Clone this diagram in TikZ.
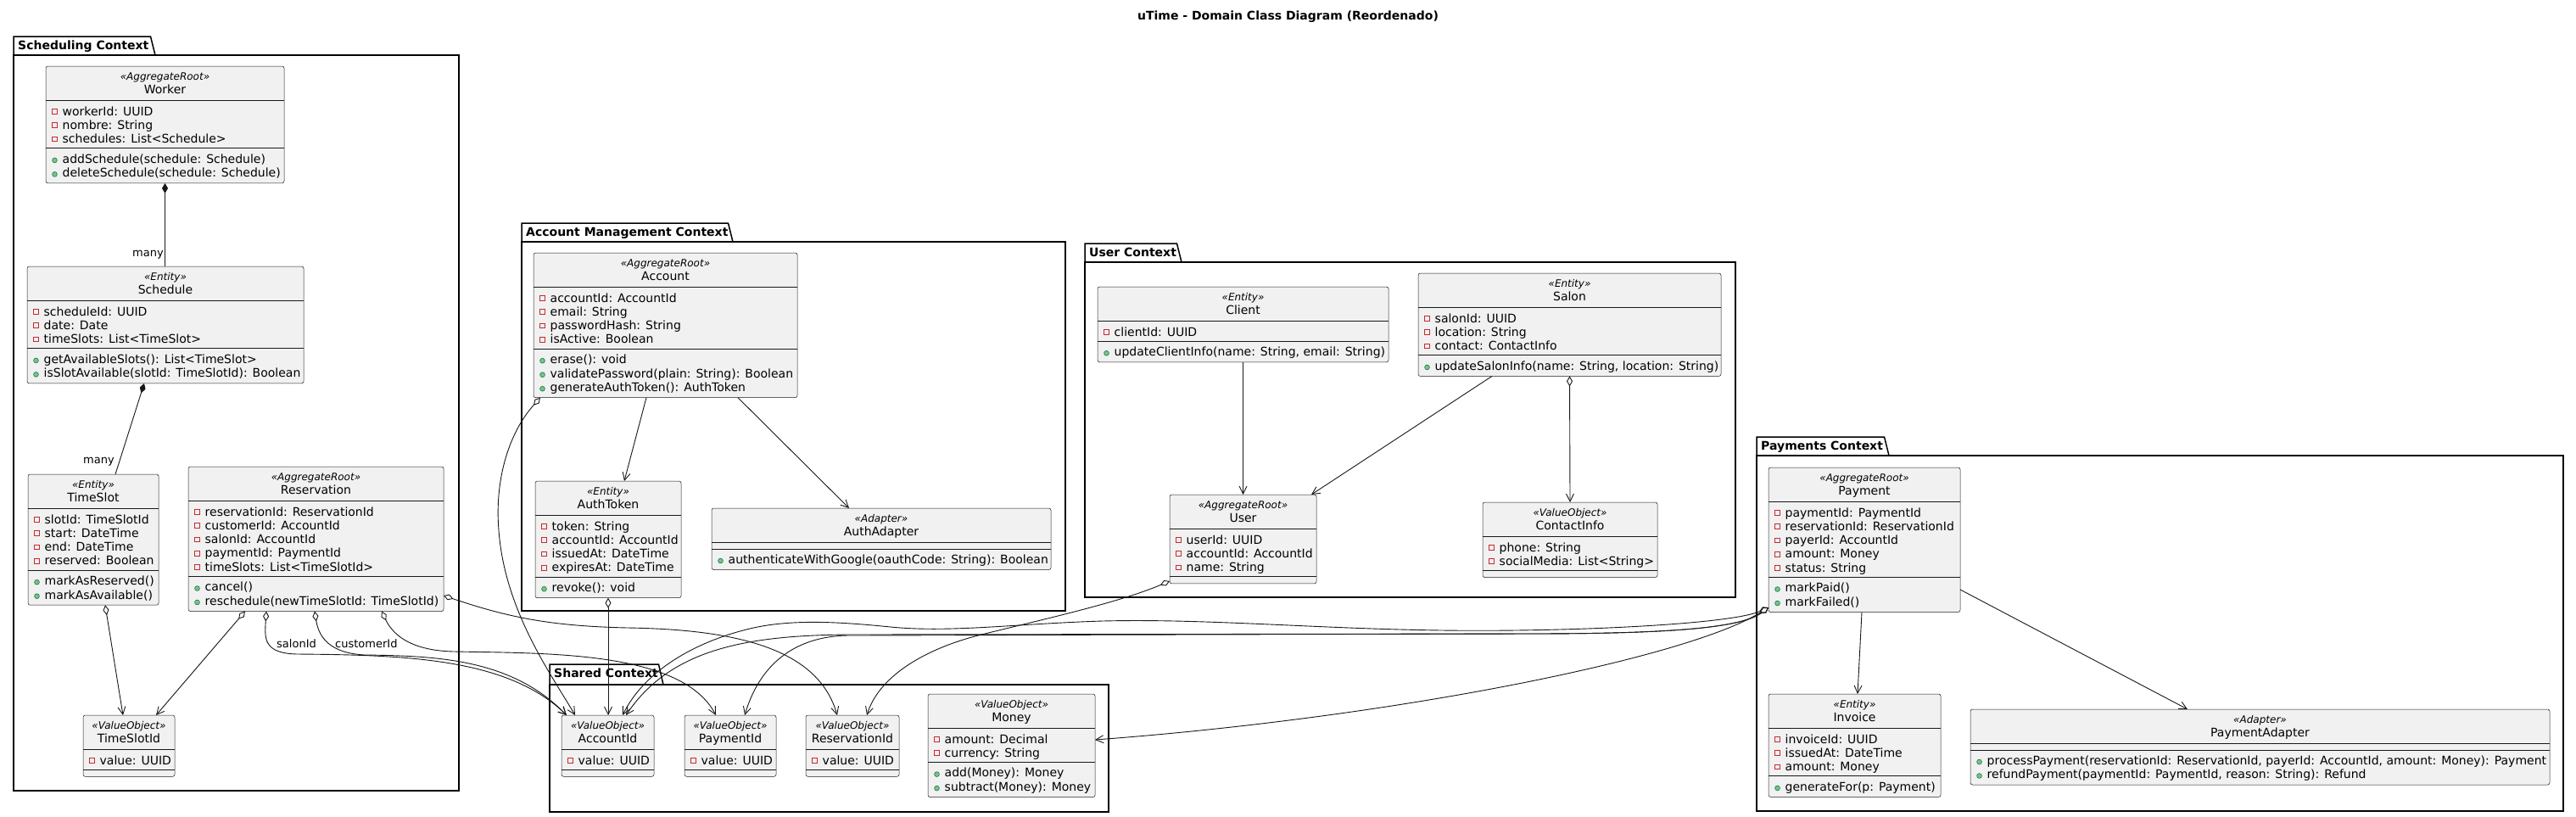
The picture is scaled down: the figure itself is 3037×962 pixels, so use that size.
\documentclass[tikz,border=0pt]{standalone}
\usepackage{fontspec}
\setmainfont{DejaVu Sans}
\usetikzlibrary{arrows.meta}
\definecolor{boxfill}{HTML}{F1F1F1}
\definecolor{edgec}{HTML}{181818}
\definecolor{privred}{HTML}{C82930}
\definecolor{pubgreenf}{HTML}{84BE84}
\definecolor{pubgreen}{HTML}{038048}
\tikzset{
  clsbox/.style={rectangle, rounded corners=2.5pt, fill=boxfill, draw=edgec, line width=0.5pt, inner sep=0pt, outer sep=0pt},
  rowtext/.style={font=\fontsize{14}{16}\selectfont, inner sep=0pt, anchor=base west, text=black},
  nametext/.style={font=\fontsize{14}{16}\selectfont, inner sep=0pt, anchor=base, text=black},
  stereotext/.style={font=\fontsize{12}{14}\selectfont\itshape, inner sep=0pt, anchor=base, text=black},
  lbl/.style={font=\fontsize{13}{15}\selectfont, inner sep=0pt, text=black},
  pkgtitle/.style={font=\fontsize{14}{16}\selectfont\bfseries, inner sep=0pt, anchor=base west},
  pkgline/.style={draw=black, line width=1.5pt, line join=miter},
  hdivline/.style={draw=edgec, line width=0.5pt},
  adivline/.style={draw=edgec, line width=1pt},
  privicon/.style={draw=privred, line width=0.9pt},
  pubicon/.style={fill=pubgreenf, draw=pubgreen, line width=0.6pt},
  assoc/.style={draw=edgec, line width=0.9pt},
  dep/.style={assoc, -{Straight Barb[length=9pt,width=9pt]}},
  agg/.style={assoc, {Diamond[fill=white,length=12pt,width=7pt]}-{Straight Barb[length=9pt,width=9pt]}},
  comp/.style={assoc, {Diamond[length=12pt,width=7pt]}-},
}
% #1 name, #2 x1, #3 x2, #4 top, #5 n attrs, #6 n methods, #7 stereotype, #8 title
\newcommand{\umlclass}[8]{%
  \node[clsbox, anchor=north west, minimum width={(#3-#2)*1pt}, minimum height={(56+16.3*#5+16.5*#6)*1pt}] (#1) at (#2,#4) {};
  \node[stereotext] (#1-st) at ([yshift=-16.3pt]#1.north) {«#7»};
  \node[nametext] (#1-nm) at ([yshift=-32pt]#1.north) {#8};
  \draw[hdivline] ([yshift=-40pt]#1.north west) -- ([yshift=-40pt]#1.north east);
  \draw[adivline] ([yshift={-(48+16.3*#5)*1pt}]#1.north west) -- ([yshift={-(48+16.3*#5)*1pt}]#1.north east);
}
% #1 box, #2 index, #3 text
\newcommand{\uattr}[3]{%
  \node[rowtext] (#1-a#2) at ([xshift=19.5pt,yshift={-(58+16.3*(#2-1))*1pt}]#1.north west) {#3};
  \draw[privicon] ([xshift=10.5pt,yshift={-(53.3+16.3*(#2-1))*1pt}]#1.north west) ++(-2.8,-2.8) rectangle ++(5.6,5.6);
}
% #1 box, #2 n attrs, #3 index, #4 text
\newcommand{\umeth}[4]{%
  \node[rowtext] (#1-m#3) at ([xshift=19.5pt,yshift={-(65.3+16.3*#2+16.5*(#3-1))*1pt}]#1.north west) {#4};
  \filldraw[pubicon] ([xshift=10.5pt,yshift={-(62+16.3*#2+16.5*(#3-1))*1pt}]#1.north west) circle[radius=2.9pt];
}
% #1 name, #2 x1, #3 tab top, #4 tab right, #5 body top, #6 x2, #7 bottom, #8 title
\newcommand{\umlpkg}[8]{%
  \draw[pkgline] (#2,#5) -- (#2,#3) -- (#4-5.5,#3) -- (#4,#5);
  \draw[pkgline] (#2,#5) rectangle (#6,#7);
  \node[pkgtitle] (#1) at (#2+5,#3+15) {#8};
}
\begin{document}
\begin{tikzpicture}[x=1pt,y=-1pt]
\fill[white] (0,0) rectangle (3037,962);
\useasboundingbox (0,0) rectangle (3037,962);

\node[font=\fontsize{14}{16}\selectfont\bfseries, inner sep=0pt, anchor=base] (title) at (1518.5,23) {uTime - Domain Class Diagram (Reordenado)};

% packages
\umlpkg{pkgSched}{16}{43}{183}{65}{541}{932}{Scheduling Context}
\umlpkg{pkgAcc}{615}{263}{864}{285}{1256}{720}{Account Management Context}
\umlpkg{pkgUser}{1279}{287}{1393}{309}{2046}{704}{User Context}
\umlpkg{pkgPay}{2071}{515}{2227}{537}{3022}{956}{Payments Context}
\umlpkg{pkgShared}{648}{783}{782}{807}{1307}{957}{Shared Context}

% Scheduling
\umlclass{Worker}{54}{335}{78}{3}{2}{AggregateRoot}{Worker}
\uattr{Worker}{1}{workerId: UUID}
\uattr{Worker}{2}{nombre: String}
\uattr{Worker}{3}{schedules: List<Schedule>}
\umeth{Worker}{3}{1}{addSchedule(schedule: Schedule)}
\umeth{Worker}{3}{2}{deleteSchedule(schedule: Schedule)}

\umlclass{Schedule}{32}{358}{314}{3}{2}{Entity}{Schedule}
\uattr{Schedule}{1}{scheduleId: UUID}
\uattr{Schedule}{2}{date: Date}
\uattr{Schedule}{3}{timeSlots: List<TimeSlot>}
\umeth{Schedule}{3}{1}{getAvailableSlots(): List<TimeSlot>}
\umeth{Schedule}{3}{2}{isSlotAvailable(slotId: TimeSlotId): Boolean}

\umlclass{TimeSlot}{33}{187}{559}{4}{2}{Entity}{TimeSlot}
\uattr{TimeSlot}{1}{slotId: TimeSlotId}
\uattr{TimeSlot}{2}{start: DateTime}
\uattr{TimeSlot}{3}{end: DateTime}
\uattr{TimeSlot}{4}{reserved: Boolean}
\umeth{TimeSlot}{4}{1}{markAsReserved()}
\umeth{TimeSlot}{4}{2}{markAsAvailable()}

\umlclass{Reservation}{222}{523}{550}{5}{2}{AggregateRoot}{Reservation}
\uattr{Reservation}{1}{reservationId: ReservationId}
\uattr{Reservation}{2}{customerId: AccountId}
\uattr{Reservation}{3}{salonId: AccountId}
\uattr{Reservation}{4}{paymentId: PaymentId}
\uattr{Reservation}{5}{timeSlots: List<TimeSlotId>}
\umeth{Reservation}{5}{1}{cancel()}
\umeth{Reservation}{5}{2}{reschedule(newTimeSlotId: TimeSlotId)}

\umlclass{TimeSlotId}{98}{206}{843}{1}{0}{ValueObject}{TimeSlotId}
\uattr{TimeSlotId}{1}{value: UUID}

% Account management
\umlclass{Account}{629}{940}{298}{4}{3}{AggregateRoot}{Account}
\uattr{Account}{1}{accountId: AccountId}
\uattr{Account}{2}{email: String}
\uattr{Account}{3}{passwordHash: String}
\uattr{Account}{4}{isActive: Boolean}
\umeth{Account}{4}{1}{erase(): void}
\umeth{Account}{4}{2}{validatePassword(plain: String): Boolean}
\umeth{Account}{4}{3}{generateAuthToken(): AuthToken}

\umlclass{AuthToken}{631}{803}{567}{4}{1}{Entity}{AuthToken}
\uattr{AuthToken}{1}{token: String}
\uattr{AuthToken}{2}{accountId: AccountId}
\uattr{AuthToken}{3}{issuedAt: DateTime}
\uattr{AuthToken}{4}{expiresAt: DateTime}
\umeth{AuthToken}{4}{1}{revoke(): void}

\umlclass{AuthAdapter}{839}{1239}{599}{0}{1}{Adapter}{AuthAdapter}
\umeth{AuthAdapter}{0}{1}{authenticateWithGoogle(oauthCode: String): Boolean}

% User
\umlclass{Client}{1294}{1637}{338}{1}{1}{Entity}{Client}
\uattr{Client}{1}{clientId: UUID}
\umeth{Client}{1}{1}{updateClientInfo(name: String, email: String)}

\umlclass{Salon}{1672}{2029}{322}{3}{1}{Entity}{Salon}
\uattr{Salon}{1}{salonId: UUID}
\uattr{Salon}{2}{location: String}
\uattr{Salon}{3}{contact: ContactInfo}
\umeth{Salon}{3}{1}{updateSalonInfo(name: String, location: String)}

\umlclass{User}{1379}{1552}{583}{3}{0}{AggregateRoot}{User}
\uattr{User}{1}{userId: UUID}
\uattr{User}{2}{accountId: AccountId}
\uattr{User}{3}{name: String}

\umlclass{ContactInfo}{1748}{1954}{592}{2}{0}{ValueObject}{ContactInfo}
\uattr{ContactInfo}{1}{phone: String}
\uattr{ContactInfo}{2}{socialMedia: List<String>}

% Payments
\umlclass{Payment}{2085}{2311}{551}{5}{2}{AggregateRoot}{Payment}
\uattr{Payment}{1}{paymentId: PaymentId}
\uattr{Payment}{2}{reservationId: ReservationId}
\uattr{Payment}{3}{payerId: AccountId}
\uattr{Payment}{4}{amount: Money}
\uattr{Payment}{5}{status: String}
\umeth{Payment}{5}{1}{markPaid()}
\umeth{Payment}{5}{2}{markFailed()}

\umlclass{Invoice}{2085}{2288}{818}{3}{1}{Entity}{Invoice}
\uattr{Invoice}{1}{invoiceId: UUID}
\uattr{Invoice}{2}{issuedAt: DateTime}
\uattr{Invoice}{3}{amount: Money}
\umeth{Invoice}{3}{1}{generateFor(p: Payment)}

\umlclass{PaymentAdapter}{2323}{3006}{836}{0}{2}{Adapter}{PaymentAdapter}
\umeth{PaymentAdapter}{0}{1}{processPayment(reservationId: ReservationId, payerId: AccountId, amount: Money): Payment}
\umeth{PaymentAdapter}{0}{2}{refundPayment(paymentId: PaymentId, reason: String): Refund}

% Shared
\umlclass{AccountId}{662}{771}{843}{1}{0}{ValueObject}{AccountId}
\uattr{AccountId}{1}{value: UUID}
\umlclass{PaymentId}{807}{915}{843}{1}{0}{ValueObject}{PaymentId}
\uattr{PaymentId}{1}{value: UUID}
\umlclass{ReservationId}{950}{1060}{843}{1}{0}{ValueObject}{ReservationId}
\uattr{ReservationId}{1}{value: UUID}
\umlclass{Money}{1094}{1291}{818}{2}{2}{ValueObject}{Money}
\uattr{Money}{1}{amount: Decimal}
\uattr{Money}{2}{currency: String}
\umeth{Money}{2}{1}{add(Money): Money}
\umeth{Money}{2}{2}{subtract(Money): Money}

% ---------- connectors ----------
\draw[comp] (Worker.south) -- (Worker.south |- Schedule.north);
\node[lbl, anchor=base east] (lblMany1) at ([xshift=-2pt,yshift=12pt]Schedule.north) {many};
\draw[comp] ([xshift=138pt]Schedule.south west) -- ([xshift=103pt]TimeSlot.north west);
\node[lbl, anchor=base east] (lblMany2) at ([xshift=102pt,yshift=13pt]TimeSlot.north west) {many};

\draw[agg] ([xshift=91pt]TimeSlot.south west) -- ([xshift=47pt]TimeSlotId.north west);
\draw[agg] ([xshift=67pt]Reservation.south west) -- ([xshift=86pt]TimeSlotId.north west);

\draw[agg] ([xshift=92pt]Reservation.south west) .. controls (312,752) and (310,770) .. (350,771) .. controls (480,772) and (600,776) .. ([xshift=6pt]AccountId.north west);
\draw[agg] ([xshift=149pt]Reservation.south west) .. controls (376,752) and (390,770) .. (430,772) .. controls (520,773) and (605,778) .. ([xshift=6pt]AccountId.north west);
\node[lbl, anchor=base west] (lblSalon) at ([xshift=104pt,yshift=-42.5pt]Reservation.south west) {salonId};
\node[lbl, anchor=base west] (lblCustomer) at ([xshift=173pt,yshift=-42.5pt]Reservation.south west) {customerId};

\draw[agg] ([xshift=228pt]Reservation.south west) .. controls (465,752) and (490,767) .. (535,768) .. controls (650,770) and (805,768) .. ([xshift=37pt]PaymentId.north west);
\draw[agg] ([yshift=18.5pt]Reservation.south east) .. controls (600,728) and (650,738) .. (740,740) .. controls (870,742) and (965,765) .. ([xshift=37pt]ReservationId.north west);

\draw[agg] ([xshift=8pt]Account.south west) .. controls (600,510) and (583,565) .. (588,625) .. controls (595,720) and (650,795) .. ([xshift=16pt]AccountId.north west);
\draw[dep] ([xshift=133pt]Account.south west) -- ([xshift=105pt]AuthToken.north west);
\draw[dep] ([xshift=241pt]Account.south west) -- ([xshift=162pt]AuthAdapter.north west);
\draw[agg] ([xshift=86pt]AuthToken.south west) -- ([xshift=55pt]AccountId.north west);

\draw[dep] (Client.south) -- (User.north);
\draw[dep] ([xshift=87pt]Salon.south west) -- ([xshift=-6pt]User.north east);
\draw[agg] (Salon.south) -- (ContactInfo.north);
\draw[agg] ([yshift=3pt]User.south west) .. controls (1320,710) and (1230,730) .. (1157,748) .. controls (1085,766) and (1035,800) .. ([xshift=72pt]ReservationId.north west);

\draw[agg] ([yshift=5.5pt]Payment.south west) .. controls (2040,736) and (1850,745) .. (1700,743) .. controls (1550,741) and (1420,729) .. (1300,732) .. controls (1200,735) and (1120,746) .. (1050,739) .. controls (990,733) and (930,729) .. (880,742) .. controls (820,757) and (760,790) .. ([xshift=72pt]AccountId.north west);
\draw[agg] ([yshift=5.5pt]Payment.south west) .. controls (2050,742) and (1950,747) .. (1800,747) -- (1000,748) .. controls (880,749) and (790,765) .. ([xshift=76pt]AccountId.north west);
\draw[agg] ([yshift=5.5pt]Payment.south west) .. controls (2050,742) and (1950,747) .. (1800,747) -- (1000,749) .. controls (935,750) and (895,785) .. ([xshift=71pt]PaymentId.north west);
\draw[agg] ([yshift=5.5pt]Payment.south west) .. controls (1990,775) and (1650,845) .. ([yshift=-54pt]Money.north east);
\draw[dep] ([xshift=110pt]Payment.south west) -- ([xshift=105pt]Invoice.north west);
\draw[dep] ([yshift=26.5pt]Payment.south east) -- ([xshift=256pt]PaymentAdapter.north west);
\end{tikzpicture}
\end{document}
